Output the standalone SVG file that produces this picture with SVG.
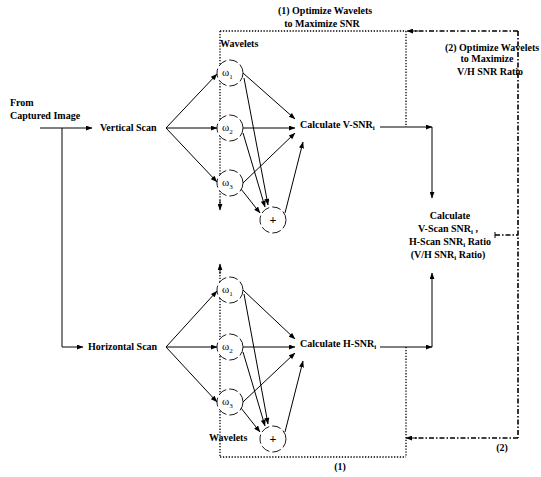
<svg xmlns="http://www.w3.org/2000/svg" width="541" height="477" viewBox="0 0 541 477" font-family="'Liberation Serif', 'DejaVu Serif', serif">
<defs>
<marker id="ah" viewBox="0 0 8 6" refX="7.5" refY="3" markerWidth="7" markerHeight="5" orient="auto" markerUnits="userSpaceOnUse"><path d="M0,0 L8,3 L0,6 Z" fill="#000"/></marker>
</defs>
<style>
text{font-family:'Liberation Serif','Times New Roman',serif;font-size:10px;font-weight:bold;fill:#000}
.c{text-anchor:middle}
.ln{stroke:#000;stroke-width:1;fill:none}
.a{marker-end:url(#ah)}
.dot{stroke:#000;stroke-width:1.3;fill:none;stroke-dasharray:1.3 1.6}
.dd{stroke:#000;stroke-width:1.6;fill:none;stroke-dasharray:5 2 1.5 2}
.circ{stroke:#000;stroke-width:0.9;fill:#fff;stroke-dasharray:9 3}
.w{font-weight:normal;font-size:11px}
.sub{font-size:7px}
</style>
<rect width="541" height="477" fill="#fff"/>

<g id="connectors">
<line class="ln a" x1="40" y1="128" x2="92" y2="128"/>
<polyline class="ln a" points="62,128 62,347 83,347"/>
<line class="ln a" x1="166" y1="128" x2="217" y2="74"/>
<line class="ln a" x1="166" y1="128" x2="217" y2="128"/>
<line class="ln a" x1="166" y1="128" x2="217" y2="182"/>
<line class="ln a" x1="243" y1="73" x2="295" y2="119"/>
<line class="ln a" x1="243" y1="128" x2="295" y2="128"/>
<line class="ln a" x1="243" y1="183" x2="295" y2="133"/>
<line class="ln a" x1="244" y1="78" x2="268" y2="205"/>
<line class="ln a" x1="243" y1="133" x2="265" y2="207"/>
<line class="ln a" x1="241" y1="189" x2="260" y2="213"/>
<line class="ln a" x1="285" y1="213" x2="303" y2="142"/>
<line class="ln a" x1="380" y1="127" x2="432" y2="127"/>
<line class="ln a" x1="432" y1="127" x2="432" y2="198"/>
<line class="ln a" x1="166" y1="347" x2="217" y2="291"/>
<line class="ln a" x1="166" y1="347" x2="217" y2="347"/>
<line class="ln a" x1="166" y1="347" x2="217" y2="402"/>
<line class="ln a" x1="243" y1="290" x2="295" y2="339"/>
<line class="ln a" x1="243" y1="347" x2="295" y2="347"/>
<line class="ln a" x1="243" y1="402" x2="295" y2="353"/>
<line class="ln a" x1="244" y1="294" x2="268" y2="424"/>
<line class="ln a" x1="243" y1="352" x2="265" y2="426"/>
<line class="ln a" x1="241" y1="408" x2="260" y2="432"/>
<line class="ln a" x1="285" y1="432" x2="303" y2="361"/>
<line class="ln a" x1="380" y1="347" x2="432" y2="347"/>
<line class="ln a" x1="432" y1="347" x2="432" y2="273"/>
<line class="dot" x1="220" y1="31" x2="406" y2="31"/>
<line class="dot" x1="406" y1="31" x2="406" y2="127"/>
<line class="dot" x1="220" y1="31" x2="220" y2="203"/>
<line class="ln a" x1="220" y1="200" x2="220" y2="210"/>
<line class="dot" x1="220" y1="272" x2="220" y2="457"/>
<line class="ln a" x1="220" y1="274" x2="220" y2="264"/>
<line class="dot" x1="220" y1="457" x2="406" y2="457"/>
<line class="dot" x1="406" y1="347" x2="406" y2="457"/>
<line class="dd" x1="495" y1="235" x2="518" y2="235"/>
<line class="ln" x1="495" y1="232" x2="495" y2="238"/>
<line class="dd" x1="518" y1="31" x2="518" y2="438"/>
<line class="dd" x1="518" y1="31" x2="414" y2="31"/>
<line class="ln a" x1="418" y1="31" x2="407" y2="31"/>
<line class="dd" x1="518" y1="438" x2="413" y2="438"/>
<line class="ln a" x1="417" y1="438" x2="406" y2="438"/>
</g>

<g id="labels-top">
<text class="c" x="325" y="14">(1) Optimize Wavelets</text>
<text class="c" x="322" y="27">to Maximize SNR</text>
<text class="c" x="492" y="51">(2) Optimize Wavelets</text>
<text class="c" x="487" y="62">to Maximize</text>
<text class="c" x="490" y="75">V/H SNR Ratio</text>
<text x="220" y="47">Wavelets</text>
<text x="209" y="441">Wavelets</text>
<text class="c" x="340" y="470">(1)</text>
<text class="c" x="502" y="451">(2)</text>
</g>

<g id="from"><text x="10" y="106">From</text><text x="10" y="119">Captured Image</text></g>
<g id="vscan"><text x="100" y="131">Vertical Scan</text></g>
<g id="hscan"><text x="88" y="350">Horizontal Scan</text></g>

<g id="v-w1"><circle class="circ" cx="230" cy="73" r="13"/><text x="222" y="76" class="w">ω<tspan class="sub" dy="3">1</tspan></text></g>
<g id="v-w2"><circle class="circ" cx="230" cy="128" r="13"/><text x="222" y="131" class="w">ω<tspan class="sub" dy="3">2</tspan></text></g>
<g id="v-w3"><circle class="circ" cx="230" cy="183" r="13"/><text x="222" y="186" class="w">ω<tspan class="sub" dy="3">3</tspan></text></g>
<g id="v-sum"><circle class="circ" cx="273" cy="220" r="13"/><text class="c" x="273" y="224" style="font-size:12px">+</text></g>

<g id="h-w1"><circle class="circ" cx="230" cy="290" r="13"/><text x="222" y="293" class="w">ω<tspan class="sub" dy="3">1</tspan></text></g>
<g id="h-w2"><circle class="circ" cx="230" cy="347" r="13"/><text x="222" y="350" class="w">ω<tspan class="sub" dy="3">2</tspan></text></g>
<g id="h-w3"><circle class="circ" cx="230" cy="402" r="13"/><text x="222" y="405" class="w">ω<tspan class="sub" dy="3">3</tspan></text></g>
<g id="h-sum"><circle class="circ" cx="273" cy="439" r="13"/><text class="c" x="273" y="443" style="font-size:12px">+</text></g>

<g id="calc-v"><text x="300" y="128">Calculate V-SNR<tspan class="sub" dy="2">i</tspan></text></g>
<g id="calc-h"><text x="300" y="347">Calculate H-SNR<tspan class="sub" dy="2">i</tspan></text></g>

<g id="ratio">
<text class="c" x="450" y="219">Calculate</text>
<text class="c" x="448" y="232">V-Scan SNR<tspan class="sub" dy="2">i</tspan><tspan dy="-2"> ,</tspan></text>
<text class="c" x="450" y="245">H-Scan SNR<tspan class="sub" dy="2">i</tspan><tspan dy="-2">  Ratio</tspan></text>
<text class="c" x="448" y="258">(V/H SNR<tspan class="sub" dy="2">i</tspan><tspan dy="-2"> Ratio)</tspan></text>
</g>
</svg>
